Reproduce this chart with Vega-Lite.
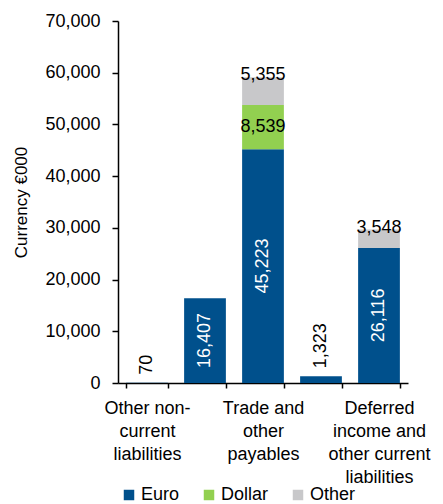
{
  "$schema": "https://vega.github.io/schema/vega-lite/v6.json",
  "autosize": "none",
  "width": 290,
  "height": 362,
  "padding": {"left": 118, "top": 21, "right": 35, "bottom": 121},
  "background": "white",
  "config": {
    "view": {"stroke": null},
    "font": "Liberation Sans",
    "axis": {"labelFont": "Liberation Sans", "titleFont": "Liberation Sans", "labelColor": "#000", "titleColor": "#000", "domainColor": "#000", "tickColor": "#000"},
    "legend": {"labelFont": "Liberation Sans", "labelColor": "#000"}
  },
  "data": {
    "values": [
      {"item": "Other non-current liabilities", "currency": "Euro", "rank": 1, "value": 70},
      {"item": "Borrowings", "currency": "Euro", "rank": 1, "value": 16407},
      {"item": "Trade and other payables", "currency": "Euro", "rank": 1, "value": 45223},
      {"item": "Trade and other payables", "currency": "Dollar", "rank": 2, "value": 8539},
      {"item": "Trade and other payables", "currency": "Other", "rank": 3, "value": 5355},
      {"item": "Provisions", "currency": "Euro", "rank": 1, "value": 1323},
      {"item": "Deferred income and other current liabilities", "currency": "Euro", "rank": 1, "value": 26116},
      {"item": "Deferred income and other current liabilities", "currency": "Other", "rank": 3, "value": 3548}
    ]
  },
  "transform": [
    {"stack": "value", "groupby": ["item"], "sort": [{"field": "rank", "order": "ascending"}], "as": ["v0", "v1"]},
    {"calculate": "(datum.v0 + datum.v1) / 2", "as": "vmid"}
  ],
  "encoding": {
    "x": {
      "field": "item",
      "type": "nominal",
      "sort": ["Other non-current liabilities", "Borrowings", "Trade and other payables", "Provisions", "Deferred income and other current liabilities"],
      "scale": {"paddingInner": 0.28, "paddingOuter": 0.14},
      "axis": {
        "title": null,
        "labelAngle": 0,
        "labelFontSize": 18,
        "labelLineHeight": 23,
        "labelPadding": 11,
        "labelBaseline": "top",
        "tickSize": 5,
        "tickBand": "extent",
        "domainWidth": 1.5,
        "tickWidth": 1.5,
        "labelExpr": "datum.value == 'Other non-current liabilities' ? ['Other non-', 'current', 'liabilities'] : datum.value == 'Trade and other payables' ? ['Trade and', 'other', 'payables'] : datum.value == 'Deferred income and other current liabilities' ? ['Deferred', 'income and', 'other current', 'liabilities'] : ''"
      }
    }
  },
  "layer": [
    {
      "mark": {"type": "bar"},
      "encoding": {
        "y": {
          "field": "v1",
          "type": "quantitative",
          "scale": {"domain": [0, 70000], "nice": false},
          "axis": {
            "title": "Currency €000",
            "titleFontSize": 17,
            "titleFontWeight": "normal",
            "titlePadding": 14,
            "labelFontSize": 18,
            "labelPadding": 12,
            "tickSize": 6,
            "tickWidth": 1.5,
            "domainWidth": 1.5,
            "grid": false,
            "format": ",d",
            "values": [0, 10000, 20000, 30000, 40000, 50000, 60000, 70000]
          }
        },
        "y2": {"field": "v0"},
        "color": {
          "field": "currency",
          "type": "nominal",
          "scale": {"domain": ["Euro", "Dollar", "Other"], "range": ["#00508C", "#92D050", "#C8C8CA"]},
          "legend": {
            "title": null,
            "orient": "none",
            "direction": "horizontal",
            "legendX": 2,
            "legendY": 465,
            "symbolType": "square",
            "symbolSize": 110,
            "symbolStrokeWidth": 0,
            "symbolOpacity": 1,
            "labelFontSize": 18,
            "labelOffset": 3,
            "columnPadding": 20
          }
        }
      }
    },
    {
      "transform": [{"filter": "datum.currency == 'Euro' && datum.value >= 10000"}],
      "mark": {"type": "text", "angle": 270, "align": "center", "baseline": "middle", "color": "white", "fontSize": 18},
      "encoding": {
        "y": {"field": "vmid", "type": "quantitative"},
        "text": {"field": "value", "type": "quantitative", "format": ",d"}
      }
    },
    {
      "transform": [{"filter": "datum.currency == 'Euro' && datum.value < 10000"}],
      "mark": {"type": "text", "angle": 270, "align": "left", "baseline": "middle", "color": "black", "fontSize": 18, "dx": 8},
      "encoding": {
        "y": {"field": "v1", "type": "quantitative"},
        "text": {"field": "value", "type": "quantitative", "format": ",d"}
      }
    },
    {
      "transform": [{"filter": "datum.currency == 'Dollar'"}],
      "mark": {"type": "text", "align": "center", "baseline": "middle", "color": "black", "fontSize": 18},
      "encoding": {
        "y": {"field": "vmid", "type": "quantitative"},
        "text": {"field": "value", "type": "quantitative", "format": ",d"}
      }
    },
    {
      "transform": [{"filter": "datum.currency == 'Other'"}],
      "mark": {"type": "text", "align": "center", "baseline": "middle", "color": "black", "fontSize": 18, "dy": -2},
      "encoding": {
        "y": {"field": "v1", "type": "quantitative"},
        "text": {"field": "value", "type": "quantitative", "format": ",d"}
      }
    }
  ]
}
